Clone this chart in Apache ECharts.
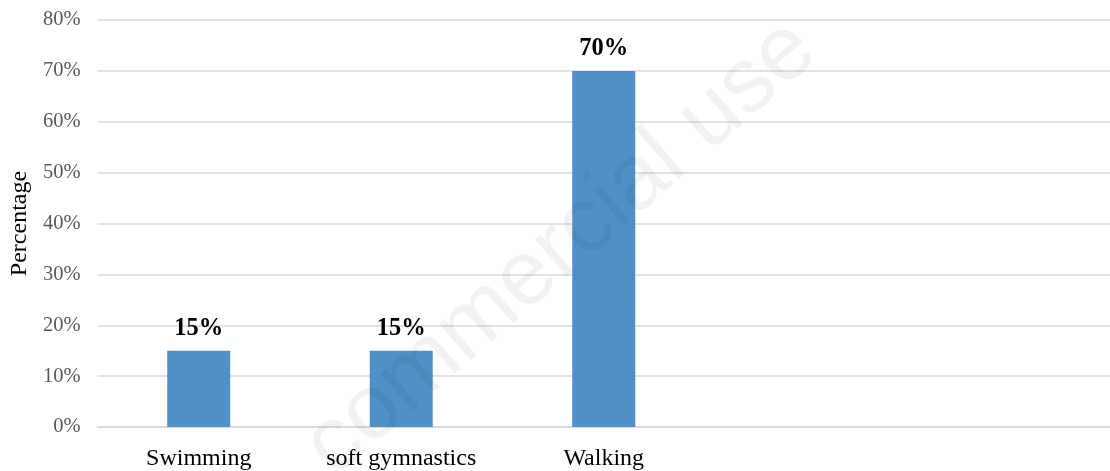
<!DOCTYPE html>
<html>
<head>
<meta charset="utf-8">
<script src="https://cdn.jsdelivr.net/npm/echarts@6/dist/echarts.min.js"></script>
<style>html,body{margin:0;padding:0;background:#fff}#c{width:1110px;height:471px}</style>
</head>
<body>
<div id="c"></div>
<script>
var categories = ['Swimming', 'soft gymnastics', 'Walking', '', ''];
var percentages = [15, 15, 70, null, null];
var yTicks = [0, 10, 20, 30, 40, 50, 60, 70, 80];
var yAxisTitle = 'Percentage';
var watermark = 'commercial use';

var chart = echarts.init(document.getElementById('c'), null, {renderer: 'canvas'});
var serif = '"Liberation Serif", "Times New Roman", serif';
chart.setOption({
  animation: false,
  backgroundColor: '#ffffff',
  grid: {left: 97, top: 20, right: 0, height: 410, containLabel: false},
  xAxis: {
    type: 'category',
    data: categories,
    axisLine: {show: true, lineStyle: {color: '#d9d9d9', width: 1.5}},
    axisTick: {show: false},
    axisLabel: {color: '#000', fontFamily: serif, fontSize: 24, margin: 20, interval: 0}
  },
  yAxis: {
    type: 'value',
    min: yTicks[0],
    max: yTicks[yTicks.length - 1],
    interval: 10,
    name: yAxisTitle,
    nameLocation: 'middle',
    nameGap: 62,
    nameRotate: 90,
    nameTextStyle: {color: '#000', fontFamily: serif, fontSize: 24},
    axisLine: {show: false},
    axisTick: {show: false},
    splitLine: {lineStyle: {color: '#d9d9d9', width: 1.5}},
    axisLabel: {color: '#595959', fontFamily: serif, fontSize: 20.5, margin: 17, formatter: '{value}%'}
  },
  series: [{
    type: 'bar',
    data: percentages,
    barWidth: 63,
    itemStyle: {color: '#5090c7'},
    label: {
      show: true, position: 'top', distance: 10,
      fontFamily: serif, fontSize: 24.5, fontWeight: 'bold', color: '#000',
      formatter: function (p) { return p.value == null ? '' : p.value + '%'; }
    }
  }],
  graphic: [{
    type: 'text',
    x: 348, y: 494,
    rotation: 41 * Math.PI / 180,
    z: 100,
    silent: true,
    style: {
      text: watermark,
      fontFamily: '"Liberation Sans", Arial, sans-serif',
      fontSize: 92,
      fill: 'rgba(0,0,0,0.05)',
      textVerticalAlign: 'bottom'
    }
  }]
});
</script>
</body>
</html>
